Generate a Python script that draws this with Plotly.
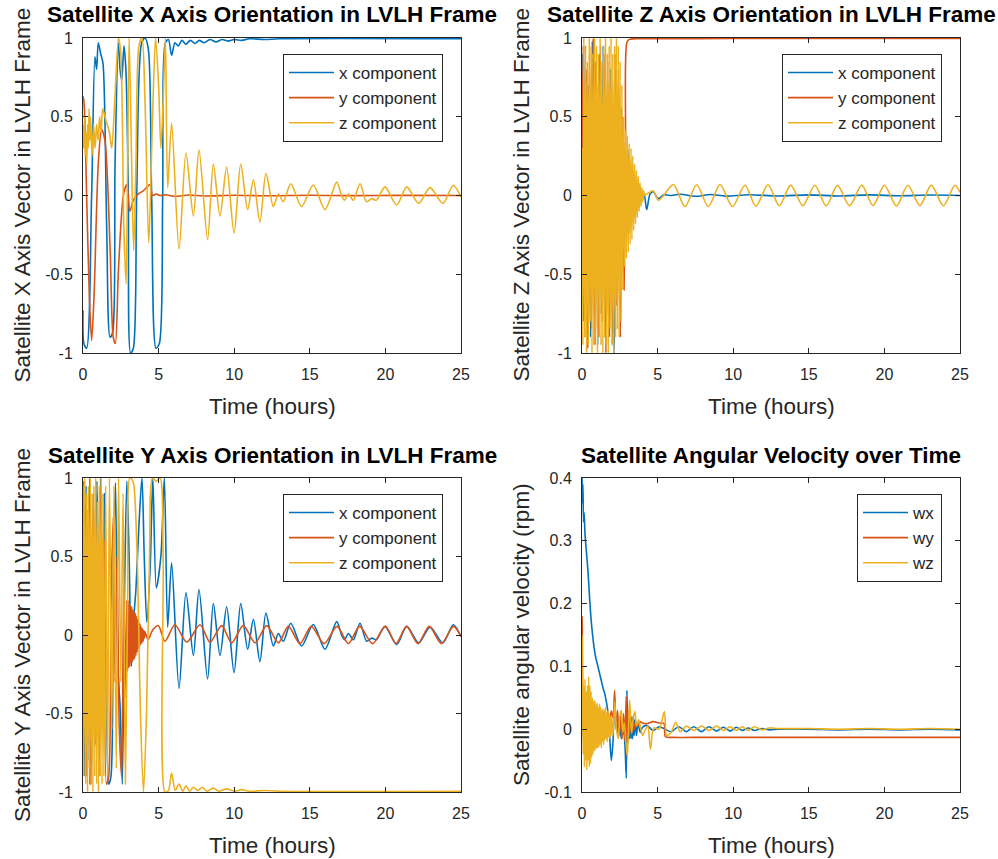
import plotly.graph_objects as go

# colori di default di MATLAB
BLUE = '#0072BD'
ORANGE = '#D95319'
YELLOW = '#EDB120'
INK = '#262626'
FONT = 'Liberation Sans, Arial, sans-serif'

W, H = 998, 859

# --- Pannello 1: asse X del satellite nel frame LVLH ---
tl_x_t = [0, 0.06, 0.24, 0.57, 0.79, 0.9, 1.01, 1.17, 1.32, 1.57, 1.79, 1.96, 2.12, 2.34, 2.45, 2.56, 2.71, 2.84,
          3.0, 3.15, 3.33, 3.55, 3.88, 4.1, 4.32, 4.54, 4.83, 5.05, 5.27, 5.45, 5.65, 5.86, 6.08, 6.3, 6.55, 6.8,
          7.1, 7.4, 7.7, 8.0, 8.4, 8.8, 9.2, 9.6, 10.0, 10.5, 11.0, 12.0, 13.0, 25.0]
tl_x_v = [-0.73, -0.94, -0.97, 0.0, 0.88, 0.8, 0.97, 0.9, 0.84, -0.22, -0.9, -0.87, 0.2, 0.97, 0.8, 0.73, 0.95, 0.79,
          0.0, -1.0, -0.97, 0.0, 0.97, 1.0, 0.93, 0.0, -0.97, -0.94, 0.0, 0.97, 0.99, 0.89, 0.97, 0.95, 0.985, 0.96,
          0.985, 0.965, 0.985, 0.97, 0.99, 0.975, 0.99, 0.98, 0.99, 0.985, 0.995, 0.99, 0.995, 0.995]

tl_y_t = [0, 0.07, 0.24, 0.42, 0.57, 0.73, 1.01, 1.23, 1.45, 1.79, 2.0, 2.14, 2.34, 2.67, 2.89, 3.1, 3.33, 3.66,
          3.99, 4.2, 4.43, 4.6, 4.85, 5.1, 5.5, 6.0, 7.0, 8.0, 10.0, 12.0, 15.0, 18.0, 21.0, 25.0]
tl_y_v = [0.63, 0.59, 0.0, -0.64, -0.92, -0.64, 0.2, 0.42, 0.35, -0.33, -0.9, -0.94, -0.48, 0.0, 0.07, -0.1, -0.03, 0.01,
          0.03, 0.05, 0.07, 0.0, 0.01, 0.0, 0.005, -0.005, 0.003, -0.003, 0.002, -0.002, 0.002, -0.001, 0.001, 0.0]

tl_z_t = [0, 0.05, 0.1, 0.15, 0.2, 0.25, 0.3, 0.35, 0.4, 0.45, 0.5, 0.6, 0.7, 0.8, 0.9, 1.0, 1.1, 1.2, 1.3, 1.45,
          1.6, 1.75, 1.9, 2.1, 2.35, 2.5, 2.7, 2.85, 2.95, 3.05, 3.2, 3.35, 3.5, 3.7, 3.9, 4.1, 4.35, 4.6, 4.8, 5.0,
          5.15, 5.3, 5.45]
tl_z_v = [0.45, 0.3, 0.5, 0.25, 0.4, 0.2, 0.45, 0.3, 0.55, 0.35, 0.5, 0.25, 0.45, 0.3, 0.45, 0.35, 0.5, 0.4, 0.55, 0.5,
          0.45, 0.4, 0.3, 0.6, 1.0, 0.9, -0.2, -0.56, 0.2, 1.0, 0.3, -0.35, 0.2, 0.95, 1.0, 0.6, -0.3, 0.5, 1.0, 0.7,
          0.3, 0.6, 1.0]

# oscillazione smorzata comune (z del pannello X e x del pannello Y sono uguali dopo ~5.5 h)
tail_t = [5.6, 5.86, 6.35, 6.81, 7.3, 7.67, 8.24, 8.62, 9.06, 9.5, 9.99, 10.43, 10.89, 11.27, 11.7, 12.1, 12.59,
          12.92, 13.25, 13.74, 14.46, 15.23, 16.0, 16.78, 17.1, 17.3, 17.55, 17.88, 18.32, 18.76, 19.1, 19.4, 19.97,
          20.75, 21.41, 22.2, 22.95, 23.8, 24.49, 25.0]
tail_v = [0.05, 0.46, -0.34, 0.27, -0.13, 0.29, -0.28, 0.2, -0.13, 0.18, -0.24, 0.2, -0.09, 0.1, -0.17, 0.14, -0.07,
          0.01, -0.04, 0.075, -0.07, 0.067, -0.09, 0.085, 0.0, -0.03, 0.01, -0.03, 0.075, -0.04, -0.02, -0.03, 0.055,
          -0.06, 0.055, -0.05, 0.05, -0.05, 0.065, -0.01]

# --- Pannello 2: asse Z ---
tr_x_t = [0, 0.1, 0.22, 0.34, 0.45, 0.56, 0.68, 0.8, 0.92, 1.04, 1.16, 1.28, 1.4, 1.52, 1.64, 1.76, 1.88, 2.0, 2.12,
          2.25, 2.4, 2.6, 2.75, 2.9, 3.04, 3.15, 3.25, 3.35, 3.45, 3.55, 3.65, 3.75, 3.84, 3.95, 4.1, 4.28, 4.5, 4.72,
          5.05, 5.4, 5.8, 6.5, 7.5, 8.5, 9.5, 11, 13, 15, 17, 19, 21, 23, 25]
tr_x_v = [0.9, -0.8, 0.95, -0.97, 0.7, -0.9, 0.98, -0.6, 0.85, -0.95, 0.9, -0.75, 0.95, -0.9, 0.6, -0.85, 0.8, -0.7,
          -1.0, -0.2, 0.4, 0.55, -0.3, -0.1, 0.29, -0.18, 0.1, -0.05, 0.08, -0.03, 0.05, 0.0, 0.024, -0.008, 0.01,
          -0.09, 0.01, 0.024, -0.02, 0.005, 0.0, 0.008, -0.005, 0.006, -0.004, 0.005, -0.003, 0.004, -0.003, 0.004,
          -0.002, 0.003, 0.0]

tr_y_t = [0, 0.08, 0.18, 0.28, 0.38, 0.5, 0.62, 0.74, 0.86, 0.98, 1.1, 1.22, 1.34, 1.46, 1.58, 1.7, 1.82, 1.94, 2.06,
          2.18, 2.3, 2.42, 2.54, 2.66, 2.78, 2.88, 2.96, 3.1, 3.5, 5, 10, 15, 20, 25]
tr_y_v = [0.2, 0.95, -0.9, 0.8, -0.97, 0.9, -0.85, 1.0, -0.95, 0.7, -0.9, 0.95, -0.8, 0.9, -1.0, 0.85, -0.9, 0.6,
          -0.95, 0.9, -0.7, 0.8, -0.9, 0.5, -0.6, 0.3, 0.97, 0.99, 0.995, 0.995, 0.997, 0.997, 0.997, 0.997]

# parte fitta campionata ogni 0.06 h
tr_z_dense = [0.3, -0.95, 1.0, -0.9, 0.95, -1.0, 0.85, -0.95, 1.0, -0.8,
              0.95, -1.0, 0.9, -0.95, 1.0, -0.85, 0.95, -1.0, 0.9, -0.9,
              1.0, -0.95, 0.85, -1.0, 0.95, -0.9, 1.0, -0.95, 0.9, -1.0,
              0.95, -0.85, 1.0, -0.95, 0.9, -1.0, 0.95, -0.9, 1.0, -0.85,
              0.95, -0.9, 0.85, -0.8, 0.7, -0.6, 0.5, -0.45, 0.42, -0.4,
              0.38, -0.36, 0.33, -0.31, 0.3, -0.28, 0.25, -0.22, 0.2, -0.18,
              0.16, -0.14, 0.12, -0.1, 0.08, -0.07, 0.05, -0.04, 0.03, 0.0]
tr_z_t = [4.3, 4.7, 5.05, 5.4, 6.04, 6.81, 7.58, 8.36, 9.13, 9.95, 10.78, 11.5, 12.3, 13.05, 13.8, 14.6, 15.4, 16.15,
          16.9, 17.7, 18.5, 19.25, 20.0, 20.8, 21.55, 22.35, 23.1, 23.9, 24.66, 25.0]
tr_z_v = [0.01, 0.03, -0.03, 0.0, 0.07, -0.07, 0.068, -0.07, 0.07, -0.07, 0.065, -0.068, 0.068, -0.065, 0.066, -0.064,
          0.065, -0.066, 0.064, -0.065, 0.066, -0.064, 0.065, -0.066, 0.065, -0.064, 0.066, -0.065, 0.065, 0.02]

# --- Pannello 3: asse Y ---
bl_x_t = [0, 0.1, 0.2, 0.32, 0.44, 0.56, 0.68, 0.8, 0.92, 1.04, 1.16, 1.28, 1.4, 1.55, 1.7, 1.85, 2.0, 2.15, 2.3,
          2.45, 2.6, 2.75, 2.9, 3.05, 3.2, 3.35, 3.5, 3.7, 3.9, 4.05, 4.22, 4.45, 4.62, 4.85, 5.15, 5.38]
bl_x_v = [0.3, -0.9, 0.95, -0.8, 1.0, -0.95, 0.9, -0.7, 0.98, 0.2, 1.0, -0.6, 0.9, -0.3, -0.95, -0.9, 0.4, 0.97, -0.2,
          -0.45, -0.95, 0.3, 0.98, 0.5, -0.2, 0.1, 0.29, 0.7, 1.0, 0.5, 0.08, 0.45, 1.0, 0.3, 0.5, 1.0]

bl_y_t = [0, 0.1, 0.22, 0.34, 0.46, 0.58, 0.7, 0.82, 0.94, 1.06, 1.18, 1.3, 1.42, 1.55, 1.7, 1.85, 2.0, 2.12, 2.25,
          2.4, 2.55, 2.7, 2.85]
bl_y_v = [0.98, 0.6, -0.9, 0.8, -0.95, 0.3, 0.9, -0.6, 0.7, -0.9, 0.95, -0.4, 0.6, -0.95, -0.9, 0.2, 0.75, -0.3, 0.5,
          -0.6, -0.9, 0.3, -0.4]
# banda fitta da 2.9 h ogni 0.04 h
bl_y_band = [0.22, -0.23, 0.22, -0.21, 0.2, -0.2, 0.19, -0.18, 0.18, -0.17,
             0.16, -0.16, 0.15, -0.15, 0.14, -0.13, 0.12, -0.11, 0.1, -0.09,
             0.08, -0.08, 0.07, -0.06, 0.05, -0.05, 0.04, -0.04, 0.03, -0.02, 0.02]
bl_y_tail_t = [4.3, 4.6, 4.98, 5.42, 6.08, 6.86, 7.74, 8.4, 9.17, 9.83, 10.6, 11.38, 12.15, 12.92, 13.58, 14.35, 15.1,
               15.95, 16.8, 17.55, 18.3, 19.15, 20.0, 20.7, 21.4, 22.15, 22.9, 23.7, 24.5, 25.0]
bl_y_tail_v = [-0.03, 0.03, 0.06, -0.04, 0.065, -0.045, 0.065, -0.045, 0.06, -0.05, 0.06, -0.05, 0.06, -0.05, 0.055,
               -0.055, 0.055, -0.055, 0.055, -0.055, 0.055, -0.055, 0.055, -0.055, 0.055, -0.055, 0.055, -0.055, 0.055,
               -0.01]

# parte fitta ogni 0.06 h
bl_z_dense = [0.95, -0.9, 1.0, -0.95, 0.9, -1.0, 0.95, -0.85, 1.0, -0.95,
              0.9, -1.0, 0.95, -0.9, 1.0, -0.95, 0.85, -1.0, 0.95, -0.9,
              1.0, -0.95, 0.9, -0.9]
bl_z_t = [1.5, 1.62, 1.75, 1.9, 2.05, 2.2, 2.35, 2.5, 2.65, 2.8, 2.95, 3.1, 3.3, 3.55, 3.8, 4.0, 4.2, 4.4, 4.6, 4.85,
          5.1, 5.3, 5.42, 5.65, 5.86, 6.1, 6.35, 6.6, 6.81, 7.05, 7.3, 7.6, 7.9, 8.2, 8.6, 9.0, 9.5, 10, 10.5, 11,
          12, 13, 25]
bl_z_v = [0.95, -0.9, 1.0, -0.6, 0.95, -0.85, 1.0, -0.3, 0.9, -0.95, 0.2, 1.0, 0.98, 0.6, -0.5, -1.0, -0.5, 0.5, 1.0,
          0.98, 1.0, 0.5, -1.0, -0.99, -0.88, -0.99, -0.95, -0.995, -0.96, -0.995, -0.97, -0.99, -0.97, -0.995,
          -0.975, -0.995, -0.98, -0.995, -0.985, -0.995, -0.99, -0.995, -0.995]

# --- Pannello 4: velocita' angolare (rpm) ---
wx_t = [0, 0.03, 0.06, 0.1, 0.14, 0.2, 0.3, 0.4, 0.5, 0.6, 0.7, 0.8, 0.9, 1.0, 1.1, 1.2, 1.3, 1.4, 1.5, 1.6, 1.7,
        1.8, 1.94, 2.05, 2.15, 2.27, 2.4, 2.5, 2.6, 2.75, 2.85, 2.93, 2.97, 3.03, 3.1, 3.15, 3.2, 3.25, 3.3, 3.35,
        3.4, 3.45, 3.5, 3.6, 3.7, 3.85, 4.0, 4.3, 4.7, 5.1, 5.5, 5.9, 6.4, 6.9, 7.4, 7.9, 8.4, 8.9, 9.35, 9.8, 10.2,
        10.6, 11.0, 11.4, 11.9, 12.4, 13.0, 15, 17, 19, 21, 23, 25]
wx_v = [0.40, 0.36, 0.39, 0.33, 0.345, 0.31, 0.28, 0.25, 0.21, 0.175, 0.15, 0.13, 0.115, 0.105, 0.095, 0.085, 0.075,
        0.065, 0.057, 0.045, 0.03, 0.0, -0.05, -0.02, 0.02, 0.015, -0.01, 0.01, -0.015, 0.0, -0.03, -0.078, 0.062,
        -0.02, 0.02, -0.015, 0.02, -0.015, 0.02, -0.015, 0.02, -0.01, 0.015, -0.01, 0.01, -0.005, 0.003, 0.006,
        -0.002, 0.004, 0.0, -0.004, 0.004, -0.004, 0.004, -0.004, 0.004, -0.003, 0.003, -0.003, 0.003, -0.002, 0.002,
        -0.002, 0.001, -0.001, 0.0, 0.0, -0.001, 0.0, -0.001, 0.0, -0.001]

wy_t = [0, 0.02, 0.05, 0.1, 0.2, 0.3, 0.4, 0.5, 0.6, 0.7, 0.8, 0.9, 1.0, 1.1, 1.2, 1.3, 1.4, 1.5, 1.6, 1.7, 1.8,
        1.94, 2.05, 2.16, 2.25, 2.35, 2.45, 2.55, 2.65, 2.75, 2.85, 2.92, 2.98, 3.05, 3.12, 3.2, 3.28, 3.36, 3.45,
        3.55, 3.7, 3.85, 4.0, 4.3, 4.7, 5.1, 5.42, 5.52, 6.0, 8, 12, 16, 20, 25]
wy_v = [0.18, 0.16, 0.02, -0.015, 0.012, -0.01, 0.015, -0.012, 0.01, -0.015, 0.012, -0.01, 0.015, -0.01, 0.012,
        -0.012, 0.01, -0.01, 0.015, -0.005, 0.01, 0.029, 0.018, 0.062, 0.0, 0.03, -0.01, 0.02, -0.015, 0.025, -0.02,
        0.052, -0.022, 0.03, -0.01, 0.017, -0.008, 0.015, 0.0, 0.012, 0.005, 0.012, 0.01, 0.009, 0.012, 0.01, 0.009,
        -0.012, -0.013, -0.013, -0.013, -0.013, -0.013, -0.013]

# parte fitta ogni 0.04 h
wz_dense = [0.15, 0.06, -0.04, 0.07, -0.06, 0.08, -0.05, 0.06, -0.065, 0.07,
            -0.05, 0.084, -0.06, 0.07, -0.055, 0.06, -0.045, 0.05, -0.04, 0.045,
            -0.035, 0.046, -0.033, 0.04, -0.03, 0.042, -0.03, 0.035, -0.028, 0.04,
            -0.025, 0.035, -0.03, 0.03, -0.02, 0.032, -0.025, 0.03, -0.017, 0.035,
            -0.015, 0.025, -0.02, 0.03, -0.012, 0.025, -0.015, 0.02, -0.01, 0.02]
wz_t = [2.05, 2.16, 2.28, 2.4, 2.5, 2.6, 2.7, 2.8, 2.9, 3.0, 3.15, 3.28, 3.4, 3.5, 3.6, 3.75, 4.0, 4.2, 4.35, 4.53,
        4.75, 5.1, 5.45, 5.6, 5.9, 6.2, 6.5, 6.9, 7.4, 7.9, 8.4, 8.9, 9.35, 9.8, 10.2, 10.6, 11.0, 11.4, 11.9, 12.4,
        13.0, 15, 17, 19, 21, 23, 25]
wz_v = [-0.01, 0.044, 0.0, -0.015, 0.02, 0.03, -0.005, 0.01, -0.02, -0.044, 0.046, -0.006, 0.02, 0.028, 0.005, 0.015,
        -0.01, 0.0, 0.005, -0.032, 0.002, 0.0, 0.028, -0.01, -0.005, 0.011, -0.004, 0.005, -0.002, 0.005, -0.002,
        0.005, -0.002, 0.004, -0.002, 0.004, -0.002, 0.004, -0.001, 0.002, 0.001, 0.001, 0.0, 0.001, 0.0, 0.001, 0.0]

x_ticks = [0, 5, 10, 15, 20, 25]
y_ticks = [-1, -0.5, 0, 0.5, 1]
y_ticks_w = [-0.1, 0, 0.1, 0.2, 0.3, 0.4]


def grid(start, step, vals):
    # istanti di campionamento uniformi per le parti fitte
    return [round(start + i * step, 3) for i in range(len(vals))]


fig = go.Figure()


def add_line(t, v, color, name, n):
    sfx = '' if n == 1 else str(n)
    fig.add_trace(go.Scatter(
        x=t, y=v, mode='lines', name=name,
        line=dict(color=color, width=1.6, shape='spline', smoothing=0.8),
        xaxis='x' + sfx, yaxis='y' + sfx, legend='legend' + sfx,
    ))


add_line(tl_x_t, tl_x_v, BLUE, 'x component', 1)
add_line(tl_y_t, tl_y_v, ORANGE, 'y component', 1)
add_line(tl_z_t + tail_t, tl_z_v + tail_v, YELLOW, 'z component', 1)

add_line(tr_x_t, tr_x_v, BLUE, 'x component', 2)
add_line(tr_y_t, tr_y_v, ORANGE, 'y component', 2)
add_line(grid(0, 0.06, tr_z_dense) + tr_z_t, tr_z_dense + tr_z_v, YELLOW, 'z component', 2)

add_line(bl_x_t + tail_t, bl_x_v + tail_v, BLUE, 'x component', 3)
add_line(bl_y_t + grid(2.9, 0.04, bl_y_band) + bl_y_tail_t, bl_y_v + bl_y_band + bl_y_tail_v, ORANGE, 'y component', 3)
add_line(grid(0, 0.06, bl_z_dense) + bl_z_t, bl_z_dense + bl_z_v, YELLOW, 'z component', 3)

add_line(wx_t, wx_v, BLUE, 'wx', 4)
add_line(wy_t, wy_v, ORANGE, 'wy', 4)
add_line(grid(0, 0.04, wz_dense) + wz_t, wz_dense + wz_v, YELLOW, 'wz', 4)

# posizioni dei riquadri in pixel (sinistra, destra, alto, basso)
boxes = {1: (83, 461, 38, 353), 2: (582, 960, 38, 353), 3: (83, 461, 478, 792), 4: (582, 960, 478, 792)}


def fmt(v):
    return ('%g' % v)


layout = dict(width=W, height=H, margin=dict(l=0, r=0, t=0, b=0, autoexpand=False), template='none',
              paper_bgcolor='white', plot_bgcolor='white', showlegend=True)
for n, (l, r, t, b) in boxes.items():
    sfx = '' if n == 1 else str(n)
    yt = y_ticks_w if n == 4 else y_ticks
    common = dict(showline=True, linecolor=INK, linewidth=1, mirror='ticks', ticks='inside', ticklen=5,
                  tickcolor=INK, showgrid=False, zeroline=False, automargin=False,
                  tickfont=dict(family=FONT, size=16, color=INK))
    layout['xaxis' + sfx] = dict(common, domain=[l / W, r / W], range=[0, 25], tickvals=x_ticks,
                                 ticktext=[fmt(v) for v in x_ticks], anchor='y' + sfx, ticklabelstandoff=7)
    layout['yaxis' + sfx] = dict(common, domain=[1 - b / H, 1 - t / H], range=[yt[0], yt[-1]], tickvals=yt,
                                 ticktext=[fmt(v) for v in yt], anchor='x' + sfx, ticklabelstandoff=6)
    leg_r = 443 if n in (1, 3) else 942
    layout['legend' + sfx] = dict(x=leg_r / W, y=1 - (t + 16) / H, xanchor='right', yanchor='top',
                                  bgcolor='white', bordercolor=INK, borderwidth=1, itemwidth=45,
                                  tracegroupgap=0, font=dict(family=FONT, size=17, color=INK))

titles = ['Satellite X Axis Orientation in LVLH Frame', 'Satellite Z Axis Orientation in LVLH Frame',
          'Satellite Y Axis Orientation in LVLH Frame', 'Satellite Angular Velocity over Time']
ylabels = ['Satellite X Axis Vector in LVLH Frame', 'Satellite Z Axis Vector in LVLH Frame',
           'Satellite Y Axis Vector in LVLH Frame', 'Satellite angular velocity (rpm)']

ann = []
for n, (l, r, t, b) in boxes.items():
    cx = (l + r) / 2 / W
    ann.append(dict(text='<b>' + titles[n - 1] + '</b>', x=cx, y=1 - (t - 23) / H, xref='paper', yref='paper',
                    showarrow=False, xanchor='center', yanchor='middle',
                    font=dict(family=FONT, size=22.5, color='black')))
    ann.append(dict(text='Time (hours)', x=cx, y=1 - (b + 53) / H, xref='paper', yref='paper',
                    showarrow=False, xanchor='center', yanchor='middle', font=dict(family=FONT, size=22.5, color=INK)))
    ann.append(dict(text=ylabels[n - 1], x=(l - 61) / W, y=1 - (t + b) / 2 / H, xref='paper', yref='paper',
                    showarrow=False, textangle=-90, xanchor='center', yanchor='middle',
                    font=dict(family=FONT, size=22.5, color=INK)))
layout['annotations'] = ann

fig.update_layout(layout)
fig.write_html("out.html", config={'displayModeBar': False},
               post_script="document.body.style.margin='0';")
